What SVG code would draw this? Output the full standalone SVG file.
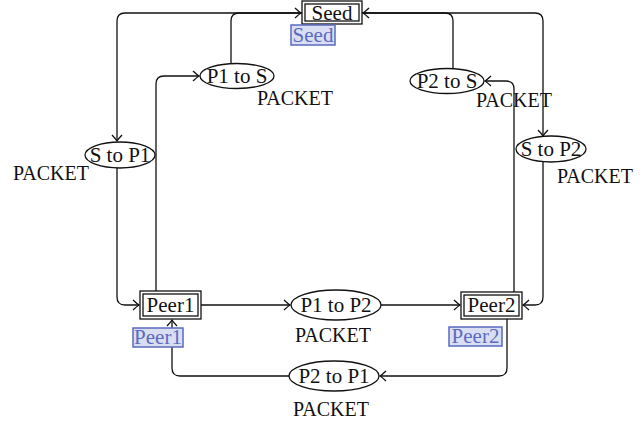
<svg xmlns="http://www.w3.org/2000/svg" width="644" height="425" viewBox="0 0 644 425">
<style>
text{font-family:"Liberation Serif","Times New Roman",serif;font-size:21px;fill:#111;text-anchor:middle}
.pk{text-anchor:start;font-size:20px}
.e{fill:#fff;stroke:#111;stroke-width:1.3}
.b{fill:#fff;stroke:#111;stroke-width:1.3}
.c path{fill:none;stroke:#111;stroke-width:1.3;marker-end:url(#ah)}
.lb rect{fill:#dadef2;stroke:#5a6abf;stroke-width:1.5}
.lb text{fill:#5a6abf}
</style>
<defs>
<marker id="ah" viewBox="-8 -6 10 12" refX="0" refY="0" markerWidth="10" markerHeight="12" markerUnits="userSpaceOnUse" orient="auto">
<path d="M-6,-5 Q-2,-1.2 0,0 Q-2,1.2 -6,5" fill="none" stroke="#111" stroke-width="1.3"/>
</marker>
</defs>
<g id="connectors" class="c">
<path d="M302,13 H125 Q117,13 117,21 V141"/>
<path d="M231,63 V21 Q231,13 239,13 H301"/>
<path d="M362,13 H535 Q543,13 543,21 V136"/>
<path d="M453,69 V21 Q453,13 445,13 H363"/>
<path d="M117,168 V297 Q117,305 125,305 H139"/>
<path d="M156,291 V84 Q156,76 164,76 H199"/>
<path d="M201,305 H290"/>
<path d="M381,305 H460"/>
<path d="M514,292 V89 Q514,81 506,81 H485"/>
<path d="M543,162 V297 Q543,305 535,305 H523"/>
<path d="M507,319 V368 Q507,376 499,376 H380"/>
<path d="M289,376 H180 Q172,376 172,368 V320"/>
</g>
<g id="seed">
<rect class="b" x="302" y="1" width="60" height="23"/>
<rect class="b" x="305" y="4" width="54" height="17"/>
<text x="332" y="19.5">Seed</text>
</g>
<g id="peer1">
<rect class="b" x="140" y="291" width="61" height="28"/>
<rect class="b" x="143" y="294" width="55" height="22"/>
<text x="170.5" y="312">Peer1</text>
</g>
<g id="peer2">
<rect class="b" x="461" y="292" width="61" height="27"/>
<rect class="b" x="464" y="295" width="55" height="21"/>
<text x="491.5" y="312">Peer2</text>
</g>
<g id="p1tos">
<ellipse class="e" cx="237" cy="76" rx="37" ry="12.5"/>
<text x="237" y="83">P1 to S</text>
<text class="pk" x="257" y="105">PACKET</text>
</g>
<g id="p2tos">
<ellipse class="e" cx="447" cy="81" rx="37" ry="12.5"/>
<text x="447" y="88">P2 to S</text>
<text class="pk" x="476" y="107">PACKET</text>
</g>
<g id="stop1">
<ellipse class="e" cx="120" cy="155" rx="35" ry="13"/>
<text x="120" y="162">S to P1</text>
<text class="pk" x="13" y="180">PACKET</text>
</g>
<g id="stop2">
<ellipse class="e" cx="551" cy="149" rx="35" ry="13"/>
<text x="551" y="156">S to P2</text>
<text class="pk" x="557" y="183">PACKET</text>
</g>
<g id="p1top2">
<ellipse class="e" cx="336" cy="305" rx="45" ry="15"/>
<text x="336" y="312">P1 to P2</text>
<text class="pk" x="295" y="342">PACKET</text>
</g>
<g id="p2top1">
<ellipse class="e" cx="334" cy="376" rx="45" ry="15"/>
<text x="334" y="383">P2 to P1</text>
<text class="pk" x="293" y="416">PACKET</text>
</g>
<g id="labels" class="lb">
<rect x="291" y="25" width="44" height="20"/>
<text x="313" y="41.5">Seed</text>
<rect x="133" y="328" width="50" height="19"/>
<text x="158" y="343.5">Peer1</text>
<rect x="449" y="327" width="53" height="19"/>
<text x="475.5" y="342.5">Peer2</text>
</g>
</svg>
